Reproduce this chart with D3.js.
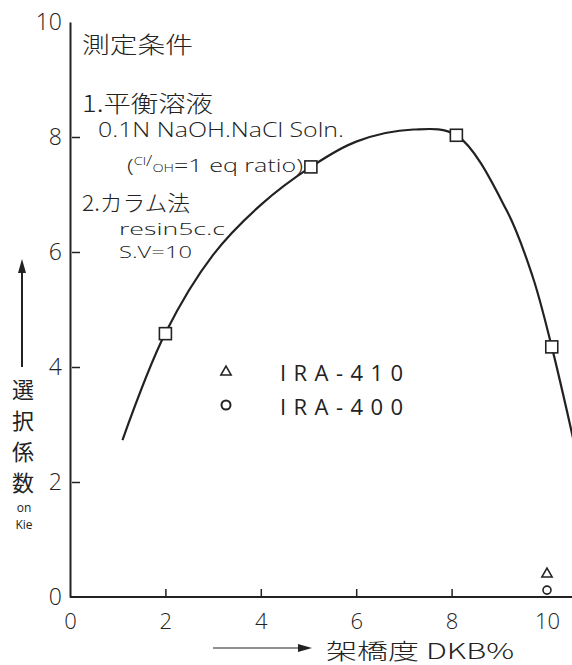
<!DOCTYPE html>
<html>
<head>
<meta charset="utf-8">
<script src="https://cdn.jsdelivr.net/npm/d3@7"></script>
<style>
  body { margin: 0; background: #fff; }
  svg { display: block; }
  .tick text { font-family: "Open Sans", sans-serif; font-weight: 300; fill: #222; }
</style>
</head>
<body>
<div id="chart"></div>
<script>
// smooth curve
const curveX = [1.1, 2.0, 3.0, 4.0, 5.05, 6.0, 7.2, 8.1, 9.15, 9.7, 10.1, 10.55];
const curveY = [2.73, 4.59, 5.95, 6.82, 7.48, 7.92, 8.13, 8.03, 6.73, 5.57, 4.35, 2.75];

// measured points (squares)
const pointX = [2.0, 5.05, 8.1, 10.1];
const pointY = [4.58, 7.48, 8.03, 4.35];

// IRA-410 (triangle) and IRA-400 (circle) at DKB 10
const ira410 = [[10, 0.4]];
const ira400 = [[10, 0.12]];

const xTicks = [0, 2, 4, 6, 8, 10];
const yTicks = [0, 2, 4, 6, 8, 10];
const legendNames = ["IRA-410", "IRA-400"];
const notes = ["測定条件", "1.平衡溶液", "0.1N NaOH.NaCl Soln.", "(%OH=1 eq ratio)", "2.カラム法", "resin5c.c", "S.V=10"];
const yLabelChars = ["選", "択", "係", "数"];
const yLabelSub = ["on", "Kie"];
const xLabel = "架橋度 DKB%";

const width = 572, height = 665;
const ink = "#222";

const svg = d3.select("#chart").append("svg")
    .attr("width", width)
    .attr("height", height)
    .style("background", "#fff");

const x = d3.scaleLinear().domain([0, 10]).range([70, 547]);
const y = d3.scaleLinear().domain([0, 10]).range([597, 22]);

// x axis: ticks point up into the plot
const xAxis = svg.append("g")
    .attr("transform", "translate(0," + y(0) + ")")
    .call(d3.axisBottom(x).tickValues(xTicks).tickFormat(d3.format("d"))
        .tickSizeInner(-8).tickSizeOuter(0).tickPadding(16));
xAxis.select(".domain").attr("d", "M" + x(0) + ",0H" + width).attr("stroke", ink).attr("stroke-width", 2);
xAxis.selectAll(".tick line").attr("stroke", ink).attr("stroke-width", 1.5)
    .filter(d => d === 0 || d === 10).remove();
xAxis.selectAll(".tick text").attr("font-size", 22);

// y axis: ticks point right into the plot
const yAxis = svg.append("g")
    .attr("transform", "translate(" + x(0) + ",0)")
    .call(d3.axisLeft(y).tickValues(yTicks).tickFormat(d3.format("d"))
        .tickSizeInner(-10).tickSizeOuter(0).tickPadding(8));
yAxis.select(".domain").attr("stroke", ink).attr("stroke-width", 2);
yAxis.selectAll(".tick line").attr("stroke", ink).attr("stroke-width", 1.5)
    .attr("x1", 2)
    .filter(d => d === 0 || d === 10).remove();
yAxis.selectAll(".tick text").attr("font-size", 23);

// curve
const line = d3.line()
    .x(d => x(d[0]))
    .y(d => y(d[1]))
    .curve(d3.curveCatmullRom.alpha(0.5));

svg.append("path")
    .datum(d3.zip(curveX, curveY))
    .attr("d", line)
    .attr("fill", "none")
    .attr("stroke", ink)
    .attr("stroke-width", 2.2);

// squares
svg.selectAll(".sq")
    .data(d3.zip(pointX, pointY))
    .enter().append("rect")
    .attr("class", "sq")
    .attr("x", d => x(d[0]) - 6)
    .attr("y", d => y(d[1]) - 6)
    .attr("width", 12)
    .attr("height", 12)
    .attr("fill", "#fff")
    .attr("stroke", ink)
    .attr("stroke-width", 1.6);

const tri = d3.symbol().type(d3.symbolTriangle).size(45);

svg.selectAll(".tri")
    .data(ira410)
    .enter().append("path")
    .attr("transform", d => "translate(" + x(d[0]) + "," + y(d[1]) + ")")
    .attr("d", tri)
    .attr("fill", "none")
    .attr("stroke", ink)
    .attr("stroke-width", 1.6);

svg.selectAll(".circ")
    .data(ira400)
    .enter().append("circle")
    .attr("cx", d => x(d[0]))
    .attr("cy", d => y(d[1]))
    .attr("r", 4)
    .attr("fill", "none")
    .attr("stroke", ink)
    .attr("stroke-width", 1.6);

// legend
const legend = svg.append("g");
legend.append("path")
    .attr("transform", "translate(226,372)")
    .attr("d", tri)
    .attr("fill", "none").attr("stroke", ink).attr("stroke-width", 1.6);
legend.append("circle")
    .attr("cx", 226).attr("cy", 405).attr("r", 4.5)
    .attr("fill", "none").attr("stroke", ink).attr("stroke-width", 2);
legend.selectAll("text")
    .data(legendNames)
    .enter().append("text")
    .attr("x", 280)
    .attr("y", (d, i) => 372 + i * 34)
    .attr("dominant-baseline", "central")
    .attr("font-family", "'Open Sans', sans-serif")
    .attr("font-size", 22)
    .attr("textLength", 123)
    .attr("lengthAdjust", "spacing")
    .attr("fill", ink)
    .text(d => d);

// conditions block
const cjk = "'Noto Sans CJK JP', sans-serif";
const latin = "'Open Sans', sans-serif";
const noteLayout = [
    {x: 82, y: 43, w: 111, fs: 23, f: cjk},
    {x: 82, y: 102, w: 131, fs: 23, f: cjk},
    {x: 98, y: 129, w: 246, fs: 20, f: latin},
    {x: 127, y: 165, w: 176, fs: 19, f: latin},
    {x: 82, y: 201, w: 108, fs: 22, f: cjk},
    {x: 119, y: 229, w: 106, fs: 16, f: latin},
    {x: 119, y: 252, w: 73, fs: 16, f: latin}
];

notes.forEach((t, i) => {
    const L = noteLayout[i];
    const el = svg.append("text")
        .attr("x", L.x)
        .attr("y", L.y)
        .attr("dominant-baseline", "central")
        .attr("font-family", L.f)
        .attr("font-weight", 300)
        .attr("font-size", L.fs)
        .attr("fill", ink)
        .attr("textLength", L.w)
        .attr("lengthAdjust", "spacingAndGlyphs");
    if (t.startsWith("(%OH")) {
        el.append("tspan").text("(");
        el.append("tspan").attr("font-size", 11).attr("dy", -5).text("Cl");
        el.append("tspan").attr("font-size", 14).attr("dy", 0).text("/");
        el.append("tspan").attr("font-size", 11).attr("dy", 7).text("OH");
        el.append("tspan").attr("dy", -2).text("=1 eq ratio)");
    } else {
        el.text(t);
    }
});

// y axis label with upward arrow
svg.append("line")
    .attr("x1", 22).attr("x2", 22)
    .attr("y1", 367).attr("y2", 270)
    .attr("stroke", ink).attr("stroke-width", 2);
svg.append("path")
    .attr("d", "M22,259L18,273L26,273Z")
    .attr("fill", ink);

svg.selectAll(".ylab")
    .data(yLabelChars)
    .enter().append("text")
    .attr("class", "ylab")
    .attr("x", 23)
    .attr("y", (d, i) => 388 + i * 31)
    .attr("text-anchor", "middle")
    .attr("dominant-baseline", "central")
    .attr("font-family", cjk)
    .attr("font-weight", 400)
    .attr("font-size", 22)
    .attr("fill", ink)
    .text(d => d);

svg.selectAll(".ysub")
    .data(yLabelSub)
    .enter().append("text")
    .attr("class", "ysub")
    .attr("x", 24)
    .attr("y", (d, i) => 507 + i * 17)
    .attr("text-anchor", "middle")
    .attr("dominant-baseline", "central")
    .attr("font-family", latin)
    .attr("font-size", 12)
    .attr("fill", ink)
    .text(d => d);

// x axis label with right arrow
svg.append("line")
    .attr("x1", 213).attr("x2", 300)
    .attr("y1", 648).attr("y2", 648)
    .attr("stroke", ink).attr("stroke-width", 1.2);
svg.append("path")
    .attr("d", "M312,648L298,644L298,652Z")
    .attr("fill", ink);
svg.append("text")
    .attr("x", 326)
    .attr("y", 649)
    .attr("dominant-baseline", "central")
    .attr("font-family", cjk)
    .attr("font-weight", 300)
    .attr("font-size", 22)
    .attr("textLength", 188)
    .attr("lengthAdjust", "spacingAndGlyphs")
    .attr("fill", ink)
    .text(xLabel);
</script>
</body>
</html>
